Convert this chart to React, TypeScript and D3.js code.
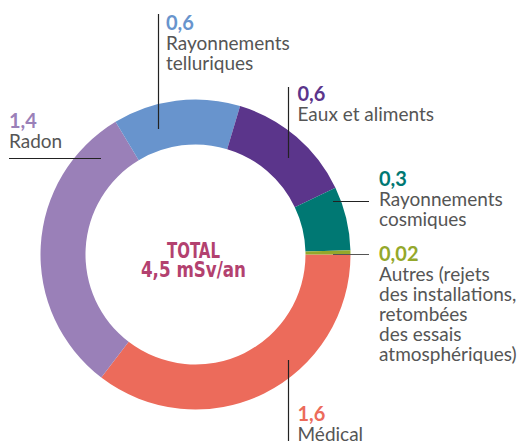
import React, { useEffect, useRef } from 'react';
import * as d3 from 'd3';

// Exposition moyenne annuelle (mSv/an), dans l'ordre horaire depuis 3h
const categories = ['Médical', 'Radon', 'Rayonnements telluriques', 'Eaux et aliments', 'Rayonnements cosmiques', 'Autres'];
const values = [1.6, 1.4, 0.6, 0.6, 0.3, 0.02];
const valueLabels = ['1,6', '1,4', '0,6', '0,6', '0,3', '0,02'];
const labelLines = [
  ['Médical'],
  ['Radon'],
  ['Rayonnements', 'telluriques'],
  ['Eaux et aliments'],
  ['Rayonnements', 'cosmiques'],
  ['Autres (rejets', 'des installations,', 'retombées', 'des essais', 'atmosphériques)'],
];
const colors = ['#ec6b5b', '#9a80b8', '#6894cd', '#5b358b', '#007873', '#94a82b'];
const totalLines = ['TOTAL', '4,5 mSv/an'];

const W = 523;
const H = 441;

const App = () => {
  const svgRef = useRef<SVGSVGElement>(null);

  useEffect(() => {
    document.body.style.margin = '0';
    if (!svgRef.current) return;
    const svg = d3.select(svgRef.current);
    svg.selectAll('*').remove();

    const cx = 195.5;
    const cy = 254.5;
    const outerR = 155;
    const innerR = 110;

    const data = categories.map((c, i) => ({ name: c, value: values[i], color: colors[i] }));
    const pie = d3.pie<any>()
      .sort(null)
      .value(d => d.value)
      .startAngle(Math.PI / 2)
      .endAngle(Math.PI / 2 + 2 * Math.PI);
    const arc = d3.arc<any>().innerRadius(innerR).outerRadius(outerR);

    const g = svg.append('g').attr('transform', `translate(${cx},${cy})`);
    g.selectAll('path')
      .data(pie(data))
      .enter()
      .append('path')
      .attr('d', arc)
      .attr('fill', d => d.data.color);

    // label layout: text anchor + leader line (relative to the page)
    const layout = [
      { x: 297.5, y: 421, line: [288.5, 360, 288.5, 441] },
      { x: 9, y: 128, line: [9, 158.5, 101, 158.5] },
      { x: 166, y: 30, line: [158.5, 14, 158.5, 129] },
      { x: 297.5, y: 101, line: [288.5, 87, 288.5, 158] },
      { x: 379, y: 186, line: [333, 201.5, 369, 201.5] },
      { x: 379, y: 261, line: [333, 254.5, 369, 254.5] },
    ];

    const lineH = 20;
    data.forEach((d, i) => {
      const l = layout[i];
      svg.append('line')
        .attr('x1', l.line[0]).attr('y1', l.line[1])
        .attr('x2', l.line[2]).attr('y2', l.line[3])
        .attr('stroke', i === 5 ? '#555' : '#222')
        .attr('stroke-width', 1.2);

      svg.append('text')
        .attr('x', l.x)
        .attr('y', l.y)
        .attr('fill', d.color)
        .attr('font-family', 'Lato, sans-serif')
        .attr('font-weight', 700)
        .attr('font-size', 20)
        .text(valueLabels[i]);

      labelLines[i].forEach((t, j) => {
        svg.append('text')
          .attr('x', l.x)
          .attr('y', l.y + lineH * (j + 1))
          .attr('fill', '#555')
          .attr('font-family', 'Lato, sans-serif')
          .attr('font-size', 19)
          .text(t);
      });
    });

    // total in the centre
    totalLines.forEach((t, j) => {
      svg.append('text')
        .attr('x', cx - 2)
        .attr('y', 257.5 + j * 19)
        .attr('text-anchor', 'middle')
        .attr('fill', '#b3416f')
        .attr('font-family', '"DejaVu Sans Condensed", "DejaVu Sans", sans-serif')
        .attr('font-weight', 700)
        .attr('font-size', 21)
        .attr('textLength', j === 0 ? 53 : 105)
        .attr('lengthAdjust', 'spacingAndGlyphs')
        .text(t);
    });
  }, []);

  return <svg ref={svgRef} width={W} height={H} viewBox={`0 0 ${W} ${H}`} style={{ display: 'block', background: '#fff' }} />;
};

export default App;
